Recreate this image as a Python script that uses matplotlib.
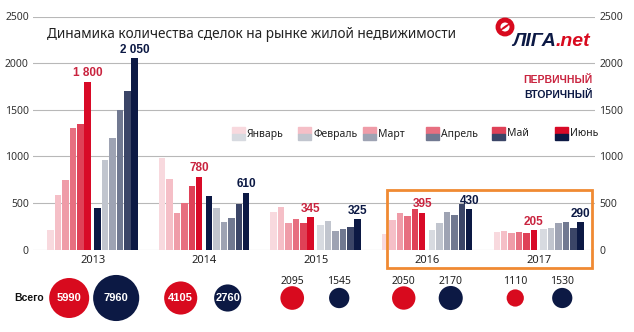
import matplotlib.pyplot as plt
from matplotlib.patches import Rectangle, Ellipse

plt.rcParams['font.family'] = ['Noto Sans', 'DejaVu Sans']
BOLD = ['Liberation Sans', 'DejaVu Sans']

years = ['2013', '2014', '2015', '2016', '2017']
months = ['Январь', 'Февраль', 'Март', 'Апрель', 'Май', 'Июнь']
# первичный рынок, янв..июн по годам
primary = [
    [210, 590, 750, 1300, 1350, 1800],
    [980, 760, 390, 500, 680, 780],
    [405, 455, 285, 325, 280, 345],
    [170, 315, 390, 355, 435, 395],
    [185, 195, 175, 190, 175, 205],
]
# вторичный рынок
secondary = [
    [450, 960, 1200, 1500, 1700, 2050],
    [570, 450, 290, 340, 490, 610],
    [265, 310, 195, 220, 245, 325],
    [205, 280, 405, 370, 490, 430],
    [215, 230, 280, 300, 235, 290],
]
total_primary = [5990, 4105, 2095, 2050, 1110]
total_secondary = [7960, 2760, 1545, 2170, 1530]

red_shades = ['#f8d9de', '#f5bfc7', '#ef9ca8', '#e76f80', '#df4157', '#d80a27']
navy_shades = ['#d7dae0', '#c1c5ce', '#9ea3b3', '#717991', '#3b4567', '#0c1944']
RED = '#d80a1e'
RED_TXT = '#c9243f'
NAVY = '#0c1944'

W, H = 634, 332


def fx(x):
    return x / W


def fy(y):
    return 1 - y / H


fig = plt.figure(figsize=(W / 100, H / 100), dpi=100)
ax = fig.add_axes([fx(33), fy(249.5), 562 / W, 233 / H])

step = 15.07      # шаг между годами (в ширинах столбца)
x0 = 2.39         # центр первого столбца
sec_off = 6.35    # сдвиг вторичного блока

for g in range(len(years)):
    base = x0 + g * step
    for i in range(6):
        ax.bar(base + i, primary[g][i], width=0.88, color=red_shades[i], zorder=2)
        c = navy_shades[i]
        if i == 0 and g < 2:
            c = NAVY
        ax.bar(base + sec_off + i, secondary[g][i], width=0.88, color=c, zorder=2)
    pv = primary[g][5]
    sv = secondary[g][5]
    ax.text(base + 5, pv + 25, f'{pv:,}'.replace(',', ' '), ha='center', va='bottom',
            fontsize=8.5, fontweight='bold', family=BOLD, color=RED_TXT)
    ax.text(base + sec_off + 5, sv + 25, f'{sv:,}'.replace(',', ' '), ha='center', va='bottom',
            fontsize=8.5, fontweight='bold', family=BOLD, color=NAVY)

ax.set_xlim(0, 562 / 7.4)
ax.set_ylim(0, 2500)
ax.set_yticks(range(0, 2501, 500))
ax.grid(axis='y', color='#b8b8b8', lw=0.8, zorder=0)
for s in ax.spines.values():
    s.set_visible(False)
ax.tick_params(axis='y', length=0, labelsize=7.5, labelcolor='#333333',
               labelright=True, pad=3)
ax.set_xticks([x0 + g * step + (sec_off + 5) / 2 for g in range(len(years))])
ax.set_xticklabels(years, fontsize=8, color='#222222')
ax.tick_params(axis='x', length=0, pad=4)

# заголовок
fig.text(fx(47), fy(34), 'Динамика количества сделок на рынке жилой недвижимости',
         fontsize=9.8, color='#222222', va='center', ha='left')

# логотип
fig.add_artist(Ellipse((fx(505), fy(27)), 14 / W, 14 / H, transform=fig.transFigure,
                       facecolor='white', edgecolor=RED, lw=3.5))
fig.add_artist(Ellipse((fx(505), fy(27)), 3 / W, 8 / H, angle=-35,
                       transform=fig.transFigure, facecolor=RED, edgecolor='none'))
lt = fig.text(fx(512), fy(46), 'ЛIГА', fontsize=14, fontweight='bold', style='italic',
              family=BOLD, color=NAVY, va='baseline', ha='left')
r = fig.canvas.get_renderer()
bb = lt.get_window_extent(r)
fig.text(bb.x1 / W, fy(46), '.net', fontsize=14, fontweight='bold', style='italic',
         family=BOLD, color=RED, va='baseline', ha='left')

fig.text(fx(593), fy(80), 'ПЕРВИЧНЫЙ', fontsize=7.5, fontweight='bold', family=BOLD,
         color=RED_TXT, ha='right', va='center')
fig.text(fx(593), fy(95), 'ВТОРИЧНЫЙ', fontsize=7.5, fontweight='bold', family=BOLD,
         color=NAVY, ha='right', va='center')

# легенда: верх квадрата - первичный, низ - вторичный
leg_x = [232, 298, 363, 426, 492, 555]
for i, m in enumerate(months):
    x = leg_x[i]
    fig.add_artist(Rectangle((fx(x), fy(133.5)), 13 / W, 6.5 / H,
                             transform=fig.transFigure, color=red_shades[i]))
    fig.add_artist(Rectangle((fx(x), fy(140)), 13 / W, 6.5 / H,
                             transform=fig.transFigure, color=navy_shades[i]))
    fig.text(fx(x + 15), fy(134), m, fontsize=7.5, color='#222222', va='center', ha='left')

# итоги за полугодие
bax = fig.add_axes([fx(33), 0, 562 / W, 64 / H])
bax.set_xlim(ax.get_xlim())
bax.set_ylim(0, 64)
bax.axis('off')
s_ref = (40 * 0.72) ** 2 / 5990
for g in range(len(years)):
    base = x0 + g * step
    xs = [base + 2.5, base + sec_off + 2.5]
    vals = [total_primary[g], total_secondary[g]]
    cols = [RED, NAVY]
    for xx, v, c in zip(xs, vals, cols):
        bax.scatter(xx, 34, s=v * s_ref, color=c, edgecolors='none')
        if g < 2:
            bax.text(xx, 34, str(v), color='white', fontsize=8, fontweight='bold',
                     family=BOLD, ha='center', va='center')
        else:
            bax.text(xx, 51, str(v), color='#222222', fontsize=7.5, ha='center', va='center')

fig.text(fx(29), fy(298), 'Всего', fontsize=7.5, fontweight='bold', family=BOLD,
         color='#111111', ha='center', va='center')

# выделение 2016-2017
fig.add_artist(Rectangle((fx(387), fy(268)), (592 - 387) / W, (268 - 190) / H,
                         transform=fig.transFigure, fill=False,
                         edgecolor='#f08a32', lw=2))

fig.savefig('out.png', dpi=100, facecolor='white')
